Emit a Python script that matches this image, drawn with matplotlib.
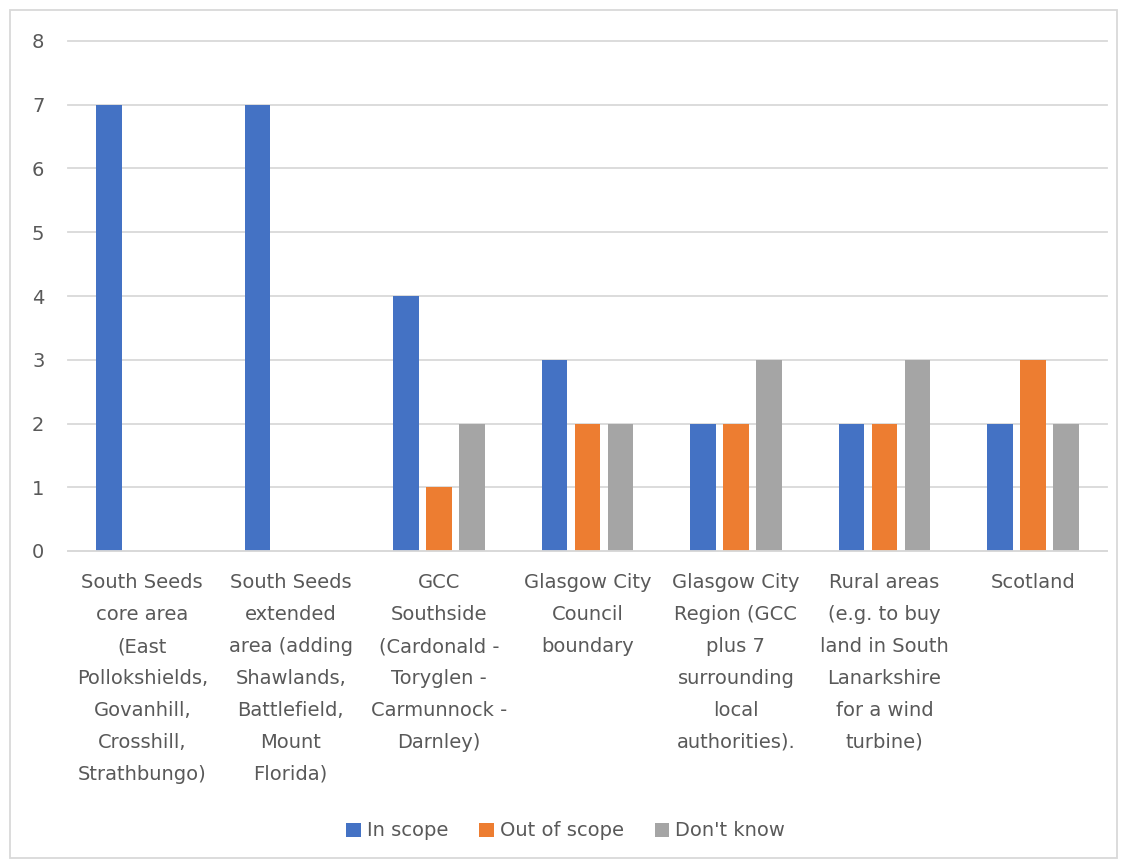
import numpy as np
import matplotlib
matplotlib.use("Agg")
import matplotlib.pyplot as plt
from matplotlib.patches import Rectangle

categories = [
    "South Seeds\ncore area\n(East\nPollokshields,\nGovanhill,\nCrosshill,\nStrathbungo)",
    "South Seeds\nextended\narea (adding\nShawlands,\nBattlefield,\nMount\nFlorida)",
    "GCC\nSouthside\n(Cardonald -\nToryglen -\nCarmunnock -\nDarnley)",
    "Glasgow City\nCouncil\nboundary",
    "Glasgow City\nRegion (GCC\nplus 7\nsurrounding\nlocal\nauthorities).",
    "Rural areas\n(e.g. to buy\nland in South\nLanarkshire\nfor a wind\nturbine)",
    "Scotland",
]
in_scope = [7, 7, 4, 3, 2, 2, 2]
out_of_scope = [0, 0, 1, 2, 2, 2, 3]
dont_know = [0, 0, 2, 2, 3, 3, 2]

series = [("In scope", in_scope, "#4472C4"),
          ("Out of scope", out_of_scope, "#ED7D31"),
          ("Don't know", dont_know, "#A5A5A5")]

text_col = "#595959"
grid_col = "#D9D9D9"
plt.rcParams['font.family'] = ['DejaVu Sans']

fig = plt.figure(figsize=(11.27, 8.67), dpi=100)
ax = fig.add_axes([68/1127, 1-551/867, (1107-68)/1127, (551-41)/867])

x = np.arange(len(categories))
w = 0.172
step = 0.222
for i, (name, vals, col) in enumerate(series):
    ax.bar(x + (i-1)*step, vals, width=w, color=col, label=name, zorder=3)

ax.set_xlim(-0.5, len(categories)-0.5)
ax.set_ylim(0, 8)
ax.set_yticks(range(0, 9))
ax.yaxis.grid(True, color=grid_col, linewidth=1.3, zorder=0)
for gl in ax.yaxis.get_gridlines():
    gl.set_clip_on(False)
for s in ['top', 'right', 'left']:
    ax.spines[s].set_visible(False)
ax.spines['bottom'].set_color(grid_col)
ax.spines['bottom'].set_linewidth(1.3)
ax.spines['bottom'].set_zorder(4)

ax.set_xticks(x)
ax.set_xticklabels(categories, fontsize=14, color=text_col, linespacing=1.86)
ax.tick_params(axis='x', length=0, pad=16)
ax.tick_params(axis='y', length=0, pad=17, labelsize=14, labelcolor=text_col)

leg = fig.legend(loc='center', bbox_to_anchor=(0.502, 1-831/867), ncol=3,
                 frameon=False, fontsize=14, handlelength=0.75, handleheight=0.75,
                 handletextpad=0.3, columnspacing=1.6)
for t in leg.get_texts():
    t.set_color(text_col)

fig.patches.append(Rectangle((10/1127, 1-858/867), 1107/1127, 848/867,
                             transform=fig.transFigure, fill=False,
                             edgecolor=grid_col, linewidth=1.3))

fig.savefig("out.png", dpi=100)
